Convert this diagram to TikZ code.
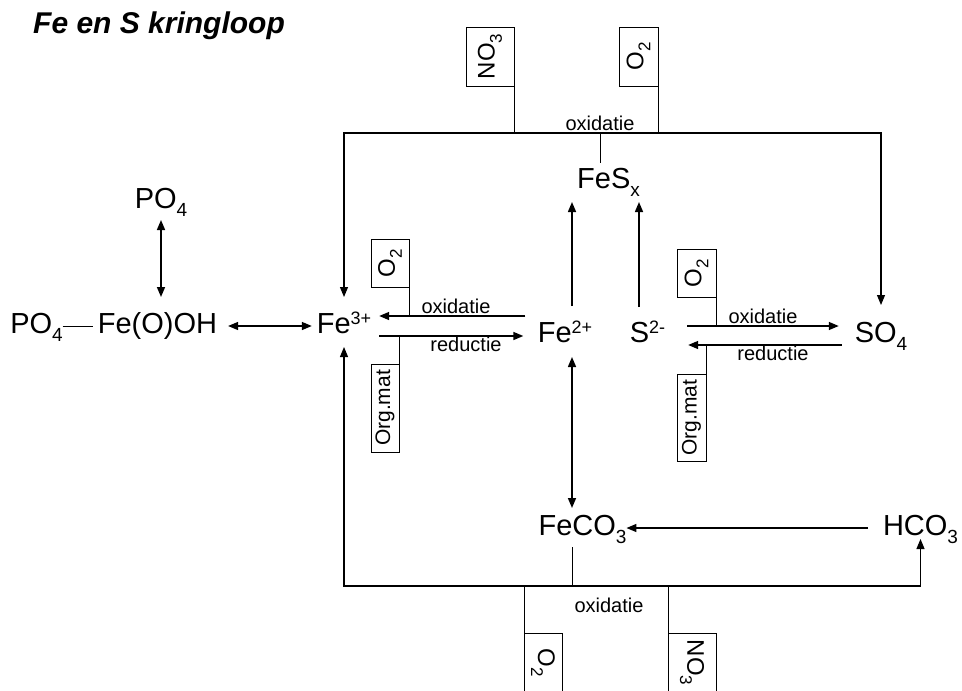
\documentclass[tikz,border=0pt]{standalone}
\usepackage{fontspec}
\setmainfont{Liberation Sans}
\usetikzlibrary{arrows.meta}

\newcommand{\chsub}[2][19]{\raisebox{-0.3em}{\fontsize{#1}{#1}\selectfont #2}}
\newcommand{\chsup}[1]{\raisebox{0.28em}{\fontsize{18}{18}\selectfont #1}}

\begin{document}
\begin{tikzpicture}[x=1pt, y=-1pt, >={Triangle[length=10pt,width=8pt]},
    chem/.style={font=\fontsize{29}{29}\selectfont, inner sep=0pt, outer sep=0pt, text height=21pt, text depth=0pt, anchor=base},
    lbl/.style={font=\fontsize{20}{20}\selectfont, inner sep=0pt, outer sep=0pt},
    oxlbl/.style={lbl, anchor=south, text depth=3pt},
    redlbl/.style={lbl, anchor=north, text height=15pt},
    agent/.style={draw, line width=0.9pt, inner sep=0pt, outer sep=0pt, font=\fontsize{24}{24}\selectfont},
    arr/.style={line width=1.5pt},
    bus/.style={line width=1.1pt},
    wire/.style={line width=0.9pt}]
    \useasboundingbox (0,0) rectangle (962,691);

    % Title
    \node[font=\fontsize{30}{30}\selectfont\bfseries\itshape, anchor=base west, inner sep=0pt] (title) at (33,33) {Fe en S kringloop};

    % Species
    \node[chem] (po4top) at (161,208) {PO\chsub{4}};
    \node[chem] (po4left) at (36.5,333) {PO\chsub{4}};
    \node[chem] (feooh) at (157.5,333) {Fe(O)OH};
    \node[chem] (fe3) at (344,333) {Fe\chsup{3+}};
    \node[chem] (fe2) at (565,342) {Fe\chsup{2+}};
    \node[chem] (s2) at (647.5,342) {S\chsup{2-}};
    \node[chem] (so4) at (881,342) {SO\chsub{4}};
    \node[chem] (fesx) at (608.5,188) {FeS\chsub{x}};
    \node[chem] (feco3) at (582.5,535) {FeCO\chsub{3}};
    \node[chem] (hco3) at (920.5,535) {HCO\chsub{3}};

    % Process labels & coordinates
    \node[oxlbl] (oxt) at (600,133) {oxidatie};
    \node[oxlbl] (oxl) at (456,316) {oxidatie};
    \node[redlbl] (redl) at (466,336) {reductie};
    \node[oxlbl] (oxr) at (763,326) {oxidatie};
    \node[redlbl] (redr) at (773,345) {reductie};
    \node[lbl, anchor=base] (oxb) at (609,612) {oxidatie};
    \coordinate (botbar) at (572,586);

    % Electron acceptors / donors
    \node[agent, minimum width=48pt, minimum height=59pt] (no3top) at (490,56.5) {\rotatebox{90}{NO\chsub[17]{3}}};
    \node[agent, minimum width=39pt, minimum height=59pt] (o2top) at (638.5,56.5) {\rotatebox{90}{O\chsub[17]{2}}};
    \node[agent, minimum width=38pt, minimum height=48pt] (o2left) at (390,263) {\rotatebox{90}{O\chsub[17]{2}}};
    \node[agent, minimum width=28pt, minimum height=88pt, font=\fontsize{21}{21}\selectfont] (orgleft) at (385,408) {\rotatebox{90}{Org.mat}};
    \node[agent, minimum width=39pt, minimum height=48pt] (o2right) at (696.5,273) {\rotatebox{90}{O\chsub[17]{2}}};
    \node[agent, minimum width=29pt, minimum height=87pt, font=\fontsize{21}{21}\selectfont] (orgright) at (691.5,417.5) {\rotatebox{90}{Org.mat}};
    \node[agent, minimum width=38pt, minimum height=59pt] (o2bot) at (543,662.5) {\rotatebox{-90}{O\chsub[17]{2}}};
    \node[agent, minimum width=48pt, minimum height=59pt] (no3bot) at (692,662.5) {\rotatebox{-90}{NO\chsub[17]{3}}};

    % Phosphate binding
    \draw[arr, <->, shorten <=12pt, shorten >=15pt] (po4top.south) -- (po4top.south |- feooh.north);
    \draw[wire, shorten >=5pt] ([yshift=-3.5pt]po4left.east) -- ([yshift=-3.5pt]feooh.west);
    \draw[arr, <->, shorten <=11pt, shorten >=5pt] ([yshift=-3.5pt]feooh.east) -- ([yshift=-3.5pt]fe3.west);

    % Fe redox
    \draw[arr, ->, shorten <=12.5pt, shorten >=8pt] (fe2.west |- oxl.south) -- (fe3.east |- oxl.south);
    \draw[arr, ->, shorten <=8pt, shorten >=14.5pt] (fe3.east |- redl.north) -- (fe2.west |- redl.north);
    \draw[wire] (o2left.south east) -- (o2left.south east |- oxl.south);
    \draw[wire] (orgleft.north east) -- (orgleft.north east |- redl.north);

    % S redox
    \draw[arr, ->, shorten <=22pt, shorten >=16pt] (s2.east |- oxr.south) -- (so4.west |- oxr.south);
    \draw[arr, ->, shorten <=13pt, shorten >=23pt] (so4.west |- redr.north) -- (s2.east |- redr.north);
    \draw[wire] (o2right.south east) -- (o2right.south east |- oxr.south);
    \draw[wire] (orgright.north east) -- (orgright.north east |- redr.north);

    % FeSx
    \draw[arr, ->, shorten <=15pt, shorten >=14pt] (fe2.north -| botbar) -- (fesx.south -| botbar);
    \draw[arr, ->, shorten <=14pt, shorten >=14pt] ([xshift=-8.5pt]s2.north) -- ([xshift=-8.5pt]s2.north |- fesx.south);
    \draw[bus, <->, shorten <=15pt, shorten >=16pt] (fe3.north) |- (oxt.south) -| (so4.north);
    \draw[wire, shorten >=4pt] (oxt.south) -- (oxt.south |- fesx.north);
    \draw[wire] (no3top.south east) -- (no3top.south east |- oxt.south);
    \draw[wire] (o2top.south east) -- (o2top.south east |- oxt.south);

    % FeCO3
    \draw[arr, <->, shorten <=15pt, shorten >=6pt] (fe2.south -| botbar) -- (feco3.north -| botbar);
    \draw[arr, ->, shorten <=15pt, shorten >=0pt] ([yshift=-3.5pt]hco3.west) -- ([yshift=-3.5pt]feco3.east);
    \draw[bus, <->, shorten <=14pt, shorten >=4pt] (fe3.south) |- (botbar) -| (hco3.south);
    \draw[wire, shorten >=12pt] (botbar) -- (botbar |- feco3.south);
    \draw[wire] (o2bot.north west) -- (o2bot.north west |- botbar);
    \draw[wire] (no3bot.north west) -- (no3bot.north west |- botbar);
\end{tikzpicture}
\end{document}
